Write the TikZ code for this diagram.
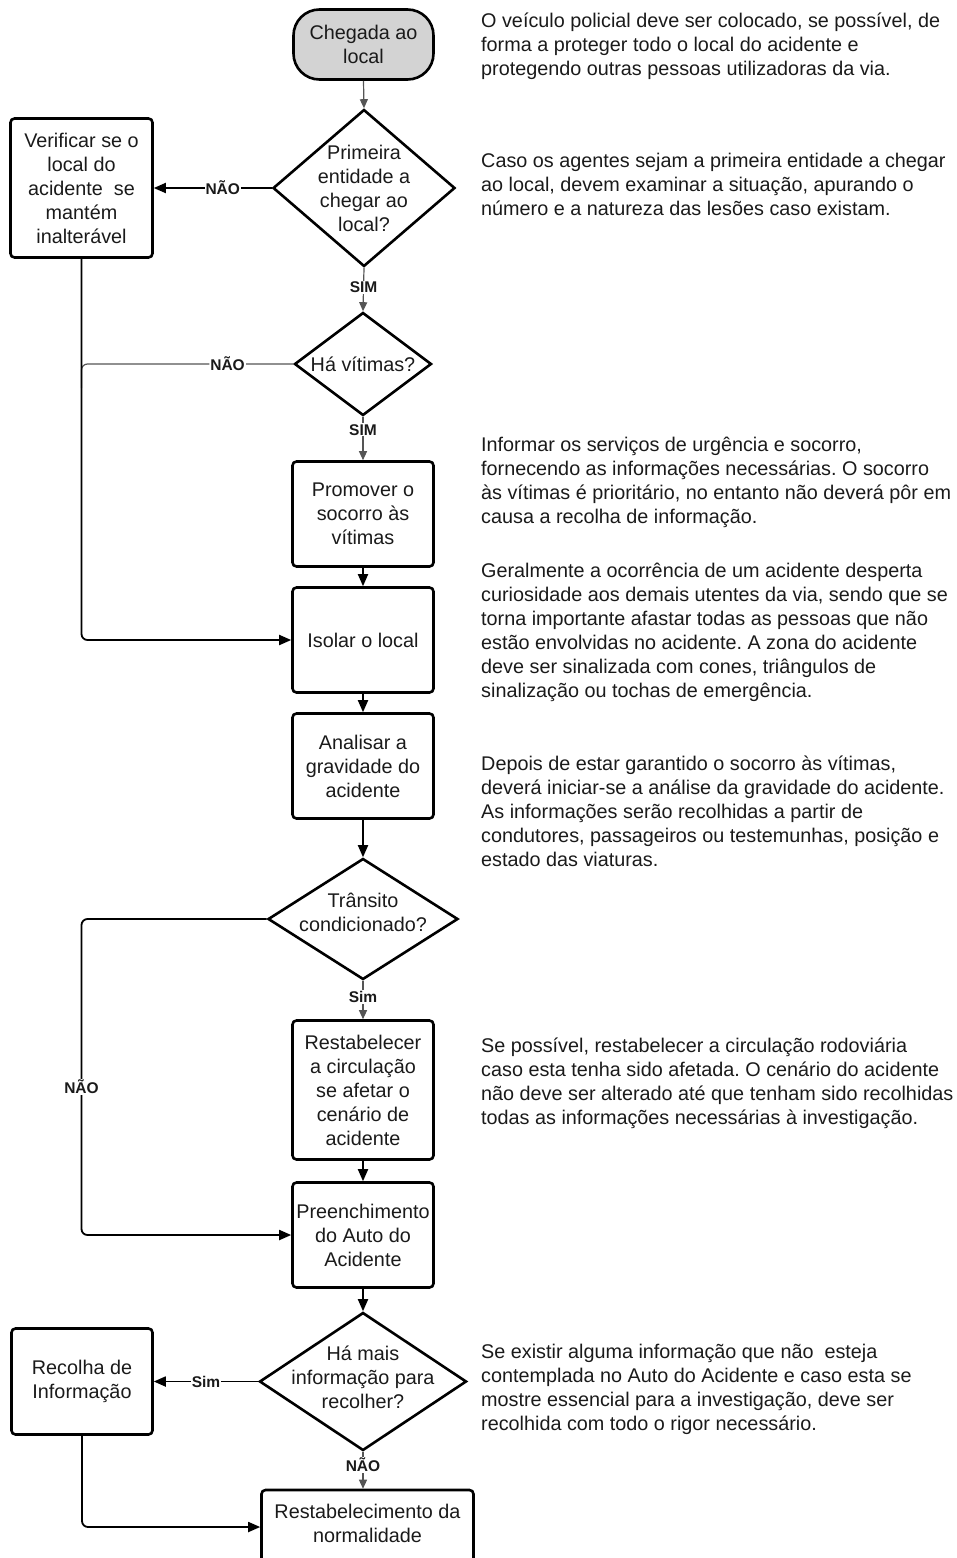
\documentclass[tikz,border=0pt]{standalone}
\usepackage{fontspec}
\setmainfont{Liberation Sans}
\usetikzlibrary{shapes.geometric,arrows.meta}
\definecolor{startgray}{HTML}{D3D3D3}
\definecolor{ink}{HTML}{1A1A1A}
\definecolor{thinline}{HTML}{555555}
\frenchspacing
\begin{document}
\begin{tikzpicture}[x=1pt,y=-1pt,
  every node/.style={font=\fontsize{19.8}{24}\selectfont, text=ink},
  box/.style={draw=black, line width=2.6pt, rounded corners=4pt, align=center, inner sep=1pt, minimum width=141pt},
  startbox/.style={draw=black, line width=2.6pt, rounded corners=26pt, fill=startgray, align=center, minimum width=140pt, minimum height=70pt},
  dia/.style={draw=black, line width=2.6pt, diamond, inner sep=0pt},
  dlab/.style={align=center},
  lbl/.style={font=\bfseries\fontsize{15.5}{17}\selectfont, fill=white, inner sep=1pt, text=ink},
  conn/.style={draw=black, line width=1.8pt, -{Triangle[length=12pt,width=10pt]}},
  thinc/.style={draw=thinline, line width=1.2pt, -{Triangle[length=9pt,width=8pt]}},
  thinl/.style={draw=thinline, line width=1.2pt},
  note/.style={anchor=base west, inner sep=0pt}
]
\useasboundingbox (0,0) rectangle (957,1558);

% flow nodes
\node[startbox] (s) at (363.5,44.5) {Chegada ao\\local};
\node[dia, minimum width=182pt, minimum height=157pt,
  label={[dlab]center:{Primeira\\entidade a\\chegar ao\\local?}}] (d1) at (364,188) {};
\node[box, minimum width=142pt, minimum height=139pt] (v) at (81.5,188)
  {Verificar se o\\local do\\acidente\ \ se\\mantém\\inalterável};
\node[dia, minimum width=137pt, minimum height=103pt,
  label={[dlab]center:{Há vítimas?}}] (d2) at (363,364) {};
\node[box, minimum height=105pt] (p) at (363,514) {Promover o\\socorro às\\vítimas};
\node[box, minimum height=105pt] (i) at (363,640) {Isolar o local};
\node[box, minimum height=105pt] (a) at (363,766) {Analisar a\\gravidade do\\acidente};
\node[dia, minimum width=190pt, minimum height=121pt,
  label={[dlab, yshift=7pt]center:{Trânsito\\condicionado?}}] (d3) at (363,919) {};
\node[box, minimum height=139pt] (r) at (363,1090)
  {Restabelecer\\a circulação\\se afetar o\\cenário de\\acidente};
\node[box, minimum height=105pt] (f) at (363,1235) {Preenchimento\\do Auto do\\Acidente};
\node[dia, minimum width=207pt, minimum height=138pt,
  label={[dlab, yshift=4pt]center:{Há mais\\informação para\\recolher?}}] (d4) at (363,1381.5) {};
\node[box, minimum height=106pt] (rc) at (82,1381.5) {Recolha de\\Informação};
\node[box, minimum width=212pt, minimum height=80pt,
  label={[dlab, yshift=7pt]center:{Restabelecimento da\\normalidade}}] (n) at (367.5,1530) {};

% connectors
\draw[thinc] (s.south) -- (d1.north);
\draw[conn] (d1.west) -- node[lbl, pos=0.415] (l1) {NÃO} (v.east);
\draw[thinc] (d1.south) -- node[lbl, pos=0.45] (l2) {SIM} (d2.north);
\draw[thinl, rounded corners=6pt] (d2.west) -- node[lbl, pos=0.31] (l3) {NÃO} (v.south |- d2.west) -- ++(0,24);
\draw[conn, rounded corners=6pt] (v.south) |- (i.west);
\draw[thinc] (d2.south) -- node[lbl, pos=0.3] (l4) {SIM} (p.north);
\draw[conn] (p.south) -- (i.north);
\draw[conn] (i.south) -- (a.north);
\draw[conn] (a.south) -- (d3.north);
\draw[conn, rounded corners=6pt] (d3.west) -- (v.south |- d3.west) -- (v.south |- f.west) -- (f.west);
\node[lbl] (l5) at (81.5,1087) {NÃO};
\draw[thinc] (d3.south) -- node[lbl, pos=0.42] (l6) {Sim} (r.north);
\draw[conn] (r.south) -- (f.north);
\draw[conn] (f.south) -- (d4.north);
\draw[conn] (d4.west) -- node[lbl, pos=0.5] (l7) {Sim} (rc.east);
\draw[thinc] (d4.south) -- node[lbl, pos=0.35] (l8) {NÃO} (d4.south |- n.north);
\draw[conn, rounded corners=6pt] (rc.south) |- ([yshift=3pt]n.west);

% notes
\node[note] (t1) at (481,27) {\parbox[t]{476pt}{\raggedright
O veículo policial deve ser colocado, se possível, de\\
forma a proteger todo o local do acidente e\\
protegendo outras pessoas utilizadoras da via.}};
\node[note] (t2) at (481,167) {\parbox[t]{476pt}{\raggedright
Caso os agentes sejam a primeira entidade a chegar\\
ao local, devem examinar a situação, apurando o\\
número e a natureza das lesões caso existam.}};
\node[note] (t3) at (481,451) {\parbox[t]{476pt}{\raggedright
Informar os serviços de urgência e socorro,\\
fornecendo as informações necessárias. O socorro\\
às vítimas é prioritário, no entanto não deverá pôr em\\
causa a recolha de informação.}};
\node[note] (t4) at (481,577) {\parbox[t]{476pt}{\raggedright
Geralmente a ocorrência de um acidente desperta\\
curiosidade aos demais utentes da via, sendo que se\\
torna importante afastar todas as pessoas que não\\
estão envolvidas no acidente. A zona do acidente\\
deve ser sinalizada com cones, triângulos de\\
sinalização ou tochas de emergência.}};
\node[note] (t5) at (481,770) {\parbox[t]{476pt}{\raggedright
Depois de estar garantido o socorro às vítimas,\\
deverá iniciar-se a análise da gravidade do acidente.\\
As informações serão recolhidas a partir de\\
condutores, passageiros ou testemunhas, posição e\\
estado das viaturas.}};
\node[note] (t6) at (481,1052) {\parbox[t]{476pt}{\raggedright
Se possível, restabelecer a circulação rodoviária\\
caso esta tenha sido afetada. O cenário do acidente\\
não deve ser alterado até que tenham sido recolhidas\\
todas as informações necessárias à investigação.}};
\node[note] (t7) at (481,1358) {\parbox[t]{476pt}{\raggedright
Se existir alguma informação que não\ \ esteja\\
contemplada no Auto do Acidente e caso esta se\\
mostre essencial para a investigação, deve ser\\
recolhida com todo o rigor necessário.}};
\end{tikzpicture}
\end{document}
